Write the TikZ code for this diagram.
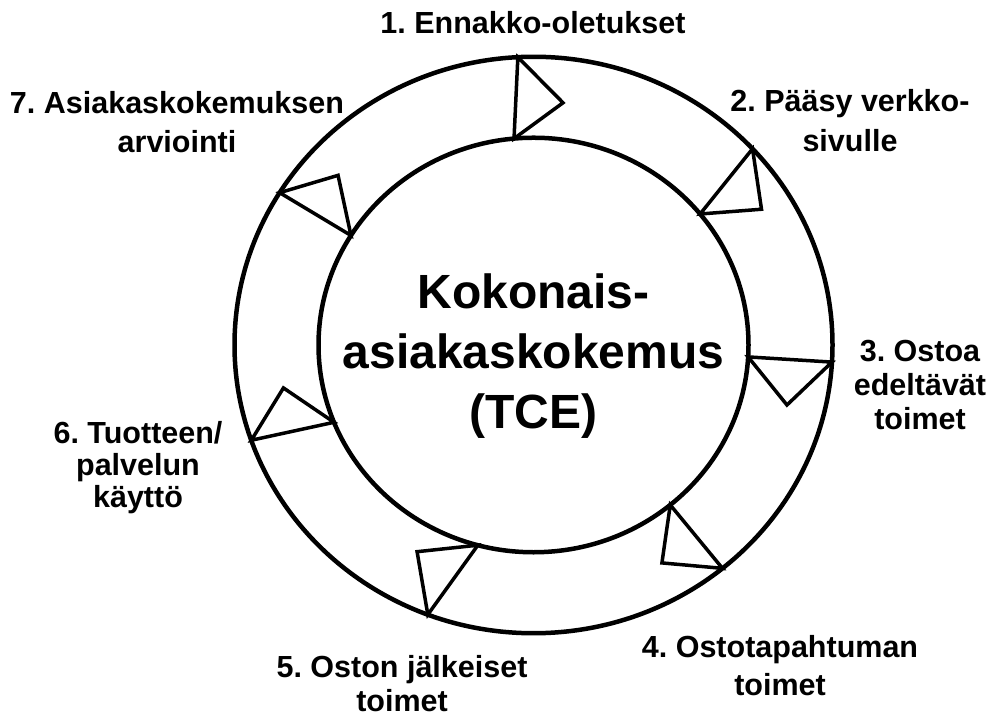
\documentclass[tikz,border=0pt]{standalone}
\usepackage{fontspec}
\setmainfont{Liberation Sans}
\usetikzlibrary{positioning}
\tikzset{
    ring/.style={draw, line width=4.5pt},
    core/.style={align=center, font=\bfseries\fontsize{48}{60}\selectfont},
    phase/.style={align=center, font=\frenchspacing\bfseries\fontsize{30.5}{34}\selectfont},
    marker/.style={draw, line width=3.5pt, line join=miter}
}

\begin{document}
\begin{tikzpicture}[x=1pt, y=1pt]
        \useasboundingbox (0, 0) rectangle (993, 722);

        % Rings and direction markers
        \coordinate (C) at (533.5, 377);
        \begin{scope}[shift={(C)}, yscale=0.964]
            \draw[ring] (0, 0) circle (299);
            \draw[ring] (0, 0) circle (215);
            % inner angle / outer angle / tip angle / tip radius
            \foreach \i/\o/\p/\r in {95.2/93.0/83.3/253, 39.2/42.9/31.7/268, -3.3/-3.4/-13.8/261, -50.5/-50.8/-60.4/260, -105/-110.7/-118.5/244, 201.9/199.3/190.1/254, 148.1/148.1/138/263}
                \draw[marker] (\i:215) -- (\o:299) -- (\p:\r) -- cycle;
        \end{scope}
        \node (TCE) [core] at (533.5, 366) {Kokonais-\\asiakaskokemus\\(TCE)};

        % Phases
        \node (P1) [phase] at (533, 699) {1. Ennakko-oletukset};
        \node (P2) [phase] at (850, 601) {2. Pääsy verkko-\\[6pt]sivulle};
        \node (P3) [phase] at (920, 337) {3. Ostoa\\edeltävät\\toimet};
        \node (P4) [phase] at (780, 56) {4. Ostotapahtuman\\[4pt]toimet};
        \node (P5) [phase] at (402, 38) {5. Oston jälkeiset\\toimet};
        \node (P6) [phase] at (138, 254) {6. Tuotteen/\\[-2pt]palvelun\\[-2pt]käyttö};
        \node (P7) [phase] at (177, 600) {7. Asiakaskokemuksen\\[5pt]arviointi};
    \end{tikzpicture}
\end{document}
